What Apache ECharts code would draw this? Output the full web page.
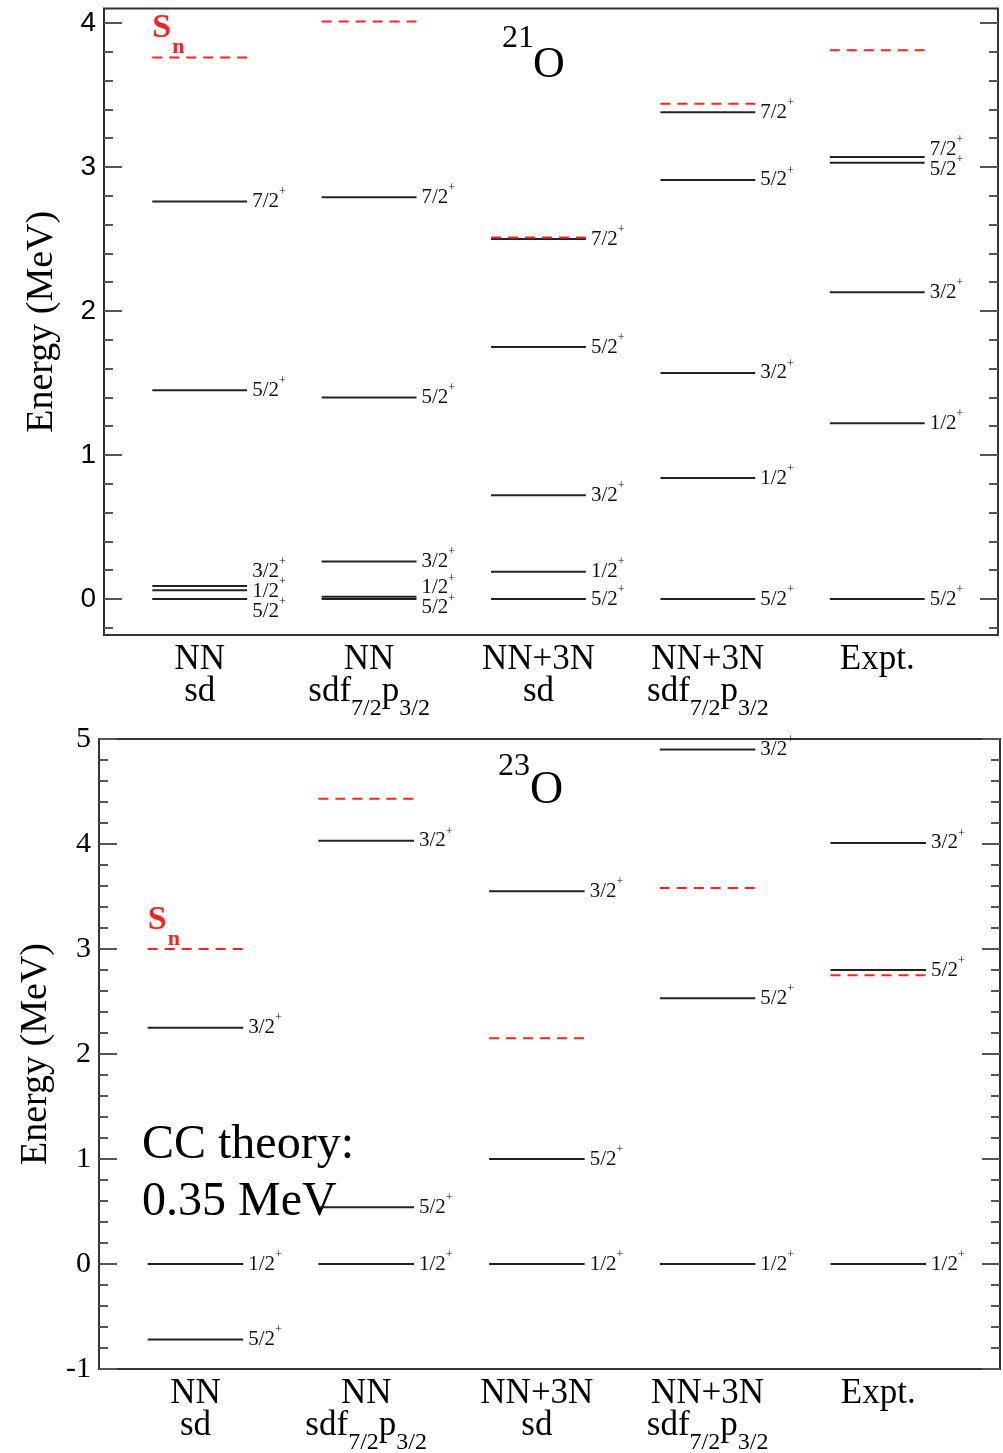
<!DOCTYPE html>
<html>
<head>
<meta charset="utf-8">
<script src="https://cdn.jsdelivr.net/npm/echarts@6.0.0/dist/echarts.min.js"></script>
<style>
  html, body { margin: 0; padding: 0; background: #fff; }
  #chart { width: 1003px; height: 1453px; }
</style>
</head>
<body>
<div id="chart"></div>
<script>
// calculations along the x axis
const columns = [0, 1, 2, 3, 4]
const interaction = ['NN', 'NN', 'NN+3N', 'NN+3N', 'Expt.']
const modelSpace = ['sd', 'sdf_{7/2}p_{3/2}', 'sd', 'sdf_{7/2}p_{3/2}', '']

// 21O levels
const o21Column = [0, 0, 0, 0, 0, 1, 1, 1, 1, 1, 2, 2, 2, 2, 2, 3, 3, 3, 3, 3, 4, 4, 4, 4, 4]
const o21Spin = ['7/2', '5/2', '3/2', '1/2', '5/2',
  '7/2', '5/2', '3/2', '1/2', '5/2',
  '7/2', '5/2', '3/2', '1/2', '5/2',
  '7/2', '5/2', '3/2', '1/2', '5/2',
  '7/2', '5/2', '3/2', '1/2', '5/2']
const o21Energy = [2.76, 1.45, 0.09, 0.06, 0.0,
  2.79, 1.40, 0.26, 0.015, 0.0,
  2.50, 1.75, 0.72, 0.19, 0.0,
  3.38, 2.91, 1.57, 0.84, 0.0,
  3.07, 3.03, 2.13, 1.22, 0.0]
const o21Sn = [3.76, 4.01, 2.51, 3.44, 3.81]

// 23O levels
const o23Column = [0, 0, 0, 1, 1, 1, 2, 2, 2, 3, 3, 3, 4, 4, 4]
const o23Spin = ['3/2', '1/2', '5/2', '3/2', '5/2', '1/2', '3/2', '5/2', '1/2',
  '3/2', '5/2', '1/2', '3/2', '5/2', '1/2']
const o23Energy = [2.25, 0.0, -0.72, 4.03, 0.54, 0.0, 3.55, 1.00, 0.0,
  4.90, 2.53, 0.0, 4.01, 2.80, 0.0]
const o23Sn = [3.00, 4.43, 2.15, 3.58, 2.75]

// y ticks
const o21Major = [0, 1, 2, 3, 4]
const o21Minor = [-0.2, 0.2, 0.4, 0.6, 0.8, 1.2, 1.4, 1.6, 1.8, 2.2, 2.4, 2.6, 2.8, 3.2, 3.4, 3.6, 3.8]
const o23Major = [-1, 0, 1, 2, 3, 4, 5]
const o23Minor = [-0.8, -0.6, -0.4, -0.2, 0.2, 0.4, 0.6, 0.8, 1.2, 1.4, 1.6, 1.8, 2.2, 2.4, 2.6, 2.8,
  3.2, 3.4, 3.6, 3.8, 4.2, 4.4, 4.6, 4.8]

const X_MIN = -0.565
const X_MAX = 4.713
const HALF = 0.28
const SERIF = 'Liberation Serif'

// push overlapping labels apart, keeping each group centred on its levels
const spread = (ys, gap) => {
  const order = ys.map((y, k) => k).sort((a, b) => ys[a] - ys[b])
  let clusters = order.map(k => [k])
  const place = c => {
    const m = c.reduce((s, k) => s + ys[k], 0) / c.length
    return c.map((k, j) => m + (j - (c.length - 1) / 2) * gap)
  }
  let merged = true
  while (merged) {
    merged = false
    for (let c = 0; c < clusters.length - 1; c++) {
      const a = place(clusters[c])
      const b = place(clusters[c + 1])
      if (b[0] - a[a.length - 1] < gap - 0.01) {
        clusters.splice(c, 2, clusters[c].concat(clusters[c + 1]))
        merged = true
        break
      }
    }
  }
  const out = []
  clusters.forEach(c => {
    const p = place(c)
    c.forEach((k, j) => { out[k] = p[j] })
  })
  return out
}

// spin label with raised parity sign
const levelRich = {
  j: { fontFamily: SERIF, fontSize: 21, padding: [5, 0, 0, 0], verticalAlign: 'bottom', fill: '#111' },
  p: { fontFamily: SERIF, fontSize: 12, lineHeight: 12, verticalAlign: 'top', fill: '#111' }
}

const levelRenderer = (cols, spins, energies) => (params, api) => {
  const i = params.dataIndex
  const col = api.value(0)
  const e = api.value(1)
  const a = api.coord([col - HALF, e])
  const b = api.coord([col + HALF, e])
  const ys = []
  const idx = []
  cols.forEach((c, k) => {
    if (c === col) {
      ys.push(api.coord([c, energies[k]])[1])
      idx.push(k)
    }
  })
  const ly = spread(ys, 20)[idx.indexOf(i)]
  return {
    type: 'group',
    children: [
      { type: 'line', shape: { x1: a[0], y1: a[1], x2: b[0], y2: b[1] }, style: { stroke: '#222', lineWidth: 2 } },
      {
        type: 'text', x: b[0] + 5, y: ly - 2.5,
        style: { text: '{j|' + spins[i] + '}{p|+}', rich: levelRich, align: 'left', verticalAlign: 'middle' }
      }
    ]
  }
}

const snRenderer = (params, api) => {
  const col = api.value(0)
  const e = api.value(1)
  const a = api.coord([col - HALF, e])
  const b = api.coord([col + HALF, e])
  const children = [
    { type: 'line', shape: { x1: a[0], y1: a[1], x2: b[0], y2: b[1] }, style: { stroke: '#f22', lineWidth: 2, lineDash: [10, 7] } }
  ]
  if (col === 0) {
    children.push(
      { type: 'text', x: a[0], y: a[1] - 29, style: { text: 'S', fontFamily: SERIF, fontWeight: 'bold', fontSize: 34, fill: '#f22', verticalAlign: 'middle' } },
      { type: 'text', x: a[0] + 20, y: a[1] - 10, style: { text: 'n', fontFamily: SERIF, fontWeight: 'bold', fontSize: 22, fill: '#f22', verticalAlign: 'middle' } }
    )
  }
  return { type: 'group', children }
}

// category names under each column, with subscripts
const catRich = {
  a: { fontFamily: SERIF, fontSize: 35, lineHeight: 32, verticalAlign: 'top', fill: '#000' },
  s: { fontFamily: SERIF, fontSize: 24, padding: [22, 0, 0, 0], verticalAlign: 'bottom', fill: '#000' }
}

const catText = k => {
  const second = '{a|' + modelSpace[k].replace(/_\{([^}]*)\}/g, '}{s|$1}{a|') + '}'
  return '{a|' + interaction[k] + '}\n' + second
}

const catRenderer = (params, api) => {
  const p = api.coord([api.value(0), api.value(1)])
  return {
    type: 'text', x: p[0], y: p[1] + 7.5,
    style: { text: catText(params.dataIndex), rich: catRich, align: 'center', verticalAlign: 'top' }
  }
}

const xAxisFor = grid => ({
  gridIndex: grid,
  type: 'value',
  min: X_MIN,
  max: X_MAX,
  axisLine: { show: false, onZero: false },
  axisTick: { show: false },
  splitLine: { show: false },
  axisLabel: { show: false }
})

const yAxesFor = (grid, min, max, major, minor, labelFont, labelSize) => {
  const base = {
    gridIndex: grid, type: 'value', min, max,
    axisLine: { show: false, onZero: false }, splitLine: { show: false }
  }
  const tickStyle = { color: '#555', width: 2 }
  return [
    {
      ...base, position: 'left',
      name: 'Energy (MeV)', nameLocation: 'middle', nameRotate: 90, nameGap: 43,
      nameTextStyle: { fontFamily: SERIF, fontSize: 38, color: '#000' },
      axisTick: { customValues: major, inside: true, length: 18, lineStyle: tickStyle },
      axisLabel: { customValues: major, fontFamily: labelFont, fontSize: labelSize, color: '#000', margin: 8 }
    },
    {
      ...base, position: 'left',
      axisTick: { customValues: minor, inside: true, length: 9, lineStyle: tickStyle },
      axisLabel: { show: false }
    },
    {
      ...base, position: 'right',
      axisTick: { customValues: major, inside: true, length: 18, lineStyle: tickStyle },
      axisLabel: { show: false }
    },
    {
      ...base, position: 'right',
      axisTick: { customValues: minor, inside: true, length: 9, lineStyle: tickStyle },
      axisLabel: { show: false }
    }
  ]
}

const chart = echarts.init(document.getElementById('chart'))

chart.setOption({
  animation: false,
  backgroundColor: '#fff',
  grid: [
    { left: 104, top: 8.6, width: 894, height: 626.4, show: true, borderColor: '#333', borderWidth: 2 },
    { left: 99, top: 739, width: 901, height: 630, show: true, borderColor: '#333', borderWidth: 2 }
  ],
  xAxis: [xAxisFor(0), xAxisFor(1)],
  yAxis: [
    ...yAxesFor(0, -0.25, 4.1, o21Major, o21Minor, 'Liberation Sans', 28),
    ...yAxesFor(1, -1, 5, o23Major, o23Minor, SERIF, 30)
  ],
  graphic: [
    { type: 'text', x: 502, y: 39, style: { text: '21', fontFamily: SERIF, fontSize: 32, fill: '#000', verticalAlign: 'middle' } },
    { type: 'text', x: 533, y: 65, style: { text: 'O', fontFamily: SERIF, fontSize: 44, fill: '#000', verticalAlign: 'middle' } },
    { type: 'text', x: 498, y: 767, style: { text: '23', fontFamily: SERIF, fontSize: 32, fill: '#000', verticalAlign: 'middle' } },
    { type: 'text', x: 530, y: 791, style: { text: 'O', fontFamily: SERIF, fontSize: 46, fill: '#000', verticalAlign: 'middle' } },
    { type: 'text', x: 142, y: 1145, style: { text: 'CC theory:', fontFamily: SERIF, fontSize: 48, fill: '#000', verticalAlign: 'middle' } },
    { type: 'text', x: 142, y: 1202, style: { text: '0.35 MeV', fontFamily: SERIF, fontSize: 48, fill: '#000', verticalAlign: 'middle' } }
  ],
  series: [
    {
      type: 'custom', xAxisIndex: 0, yAxisIndex: 0,
      data: o21Column.map((c, k) => [c, o21Energy[k]]),
      renderItem: levelRenderer(o21Column, o21Spin, o21Energy)
    },
    {
      type: 'custom', xAxisIndex: 0, yAxisIndex: 0,
      data: columns.map((c, k) => [c, o21Sn[k]]),
      renderItem: snRenderer
    },
    {
      type: 'custom', xAxisIndex: 0, yAxisIndex: 0, clip: false,
      data: columns.map(c => [c, -0.25]),
      renderItem: catRenderer
    },
    {
      type: 'custom', xAxisIndex: 1, yAxisIndex: 4,
      data: o23Column.map((c, k) => [c, o23Energy[k]]),
      renderItem: levelRenderer(o23Column, o23Spin, o23Energy)
    },
    {
      type: 'custom', xAxisIndex: 1, yAxisIndex: 4,
      data: columns.map((c, k) => [c, o23Sn[k]]),
      renderItem: snRenderer
    },
    {
      type: 'custom', xAxisIndex: 1, yAxisIndex: 4, clip: false,
      data: columns.map(c => [c, -1]),
      renderItem: catRenderer
    }
  ]
})
</script>
</body>
</html>
